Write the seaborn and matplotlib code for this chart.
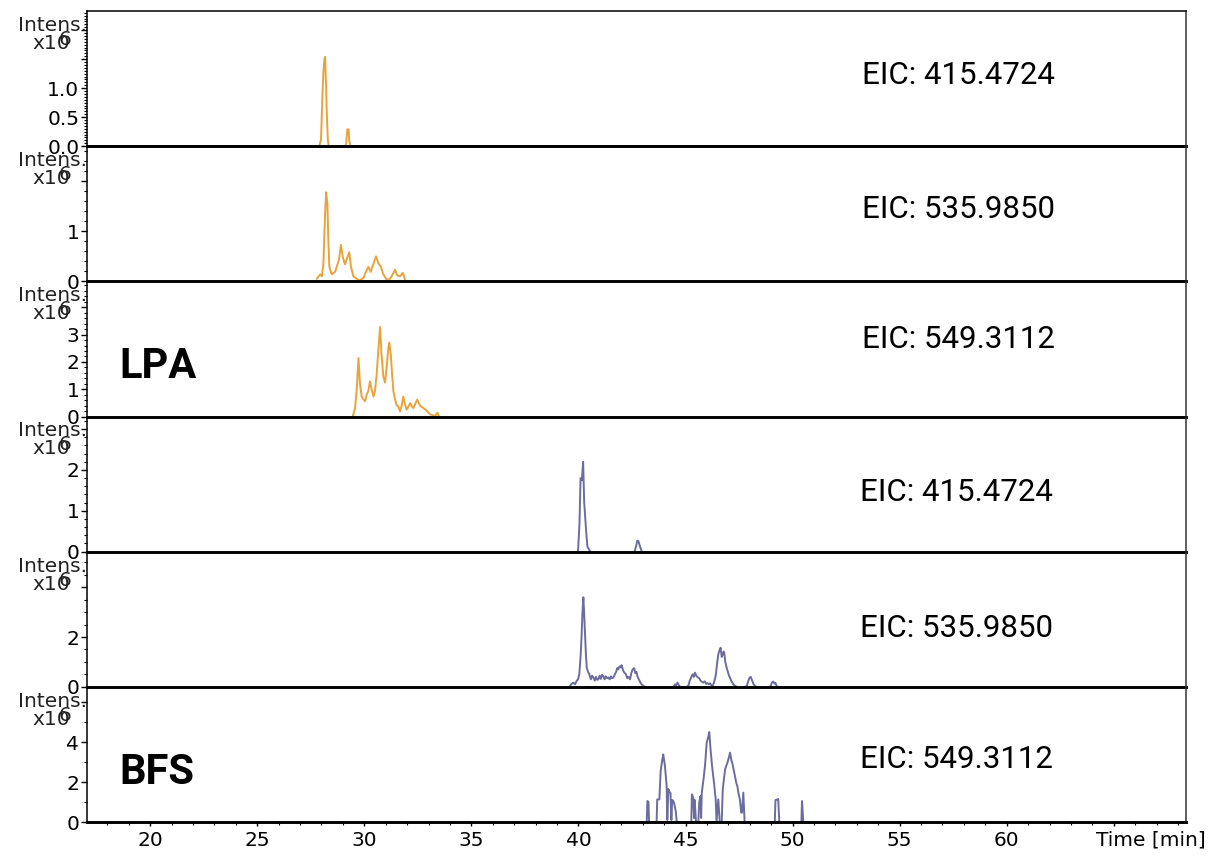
import numpy as np
import pandas as pd
import matplotlib
matplotlib.use("Agg")
import matplotlib.pyplot as plt
import seaborn as sns
from matplotlib.ticker import MultipleLocator, FuncFormatter

sns.set_theme(style="white")
plt.rcParams["font.family"] = ["DejaVu Sans"]

N = np.nan
ORANGE = "#E9A33B"
PURPLE = "#6C6C9E"

# ---------------- data (time in min, intensity in units of the panel) -------------
lpa_415_t = [27.9, 27.98, 28.05, 28.09, 28.14, 28.17, 28.2, 28.22, 28.25, 28.3, 28.34, N,
             29.12, 29.16, 29.21, 29.27, 29.3, 29.36]
lpa_415_i = [0, 0.11, 0.9, 1.26, 1.5, 1.54, 1.2, 1.03, 0.57, 0.11, 0, N,
             0, 0.05, 0.29, 0.29, 0.09, 0]

lpa_535_t = [27.78, 27.94, 28.02, 28.09, 28.17, 28.22, 28.28, 28.32, 28.37, 28.48, 28.64, 28.75,
             28.82, 28.91, 29.0, 29.1, 29.21, 29.3, 29.38, 29.49, 29.65, 29.8, 29.96, 30.08,
             30.19, 30.3, 30.42, 30.55, 30.66, 30.77, 30.89, 31.05, 31.2, 31.33, 31.44, 31.54,
             31.67, 31.8, 31.86, 31.92]
lpa_535_i = [0.05, 0.14, 0.1, 0.34, 1.34, 1.78, 1.54, 0.86, 0.29, 0.14, 0.19, 0.34,
             0.43, 0.73, 0.48, 0.34, 0.48, 0.58, 0.29, 0.1, 0.05, 0.02, 0.07, 0.19,
             0.29, 0.19, 0.34, 0.5, 0.36, 0.29, 0.14, 0.03, 0.05, 0.14, 0.23, 0.12,
             0.1, 0.17, 0.1, 0.0]

lpa_549_t = [29.46, 29.57, 29.65, 29.73, 29.8, 29.88, 29.96, 30.04, 30.12, 30.19, 30.27, 30.35,
             30.43, 30.5, 30.58, 30.66, 30.74, 30.8, 30.89, 30.97, 31.05, 31.13, 31.17, 31.24,
             31.3, 31.36, 31.44, 31.52, 31.59, 31.67, 31.75, 31.82, 31.9, 31.98, 32.06, 32.14,
             32.22, 32.29, 32.38, 32.47, 32.56, 32.64, 32.76, 32.92, 33.07, 33.31, 33.41, 33.5]
lpa_549_i = [0, 0.3, 1.0, 2.14, 1.2, 0.73, 0.62, 0.56, 0.82, 0.93, 1.29, 0.98,
             0.73, 0.93, 1.55, 2.45, 3.28, 2.35, 1.47, 1.24, 1.84, 2.55, 2.7, 2.25,
             1.55, 0.93, 0.62, 0.41, 0.37, 0.19, 0.41, 0.73, 0.46, 0.25, 0.36, 0.49,
             0.37, 0.31, 0.46, 0.62, 0.46, 0.37, 0.31, 0.21, 0.08, 0.02, 0.14, 0.0]

bfs_415_t = [39.98, 40.05, 40.1, 40.16, 40.22, 40.27, 40.31, 40.36, 40.42, 40.5, 40.56, N,
             42.62, 42.7, 42.75, 42.8, 42.88, 42.96]
bfs_415_i = [0, 0.7, 1.8, 1.75, 2.2, 1.2, 0.9, 0.5, 0.12, 0.05, 0, N,
             0, 0.15, 0.27, 0.26, 0.12, 0]

bfs_535_t = [39.61, 39.68, 39.76, 39.84, 39.92, 39.98, 40.04, 40.1, 40.15, 40.19, 40.23, 40.27,
             40.31, 40.35, 40.39, 40.45, 40.51, 40.58, 40.64, 40.7, 40.76, 40.82, 40.88, 40.93,
             40.99, 41.05, 41.1, 41.16, 41.22, 41.28, 41.34, 41.4, 41.46, 41.52, 41.57, 41.63,
             41.7, 41.76, 41.81, 41.86, 41.92, 41.97, 42.02, 42.07, 42.12, 42.17, 42.22, 42.28,
             42.34, 42.41, 42.47, 42.53, 42.6, 42.66, 42.71, 42.75, 42.82, 42.88, 42.95, 43.02,
             43.11, N,
             44.44, 44.51, 44.56, 44.62, 44.68, 44.74, N,
             45.06, 45.13, 45.2, 45.25, 45.29, 45.34, 45.39, 45.44, 45.5, 45.57, 45.64, 45.7,
             45.77, 45.83, 45.9, 45.97, 46.03, 46.09, 46.15, 46.21, 46.27, 46.32, 46.37, 46.42,
             46.47, 46.53, 46.58, 46.64, 46.69, 46.74, 46.78, 46.81, 46.86, 46.92, 46.98, 47.03,
             47.08, 47.13, 47.18, 47.23, 47.3, 47.39, N,
             47.8, 47.86, 47.92, 47.98, 48.04, 48.1, 48.17, 48.24, 48.3, N,
             48.93, 48.98, 49.04, 49.1, 49.16, 49.2, 49.25, 49.28]
bfs_535_i = [0.04, 0.12, 0.17, 0.1, 0.24, 0.3, 0.5, 1.2, 2.1, 3.0, 3.6, 2.9,
             2.1, 1.3, 0.77, 0.6, 0.5, 0.3, 0.45, 0.37, 0.25, 0.4, 0.28, 0.3,
             0.45, 0.32, 0.48, 0.44, 0.3, 0.42, 0.35, 0.38, 0.3, 0.42, 0.35, 0.37,
             0.5, 0.6, 0.75, 0.7, 0.82, 0.78, 0.87, 0.7, 0.6, 0.55, 0.5, 0.35,
             0.4, 0.3, 0.55, 0.7, 0.75, 0.55, 0.6, 0.44, 0.3, 0.2, 0.1, 0.05,
             0, N,
             0, 0.1, 0.05, 0.17, 0.08, 0.01, N,
             0, 0.04, 0.25, 0.35, 0.44, 0.5, 0.4, 0.57, 0.45, 0.38, 0.35, 0.25,
             0.2, 0.17, 0.22, 0.12, 0.15, 0.1, 0.14, 0.06, 0.04, 0.15, 0.3, 0.5,
             0.9, 1.3, 1.45, 1.57, 1.2, 1.3, 1.42, 1.37, 1.0, 0.77, 0.6, 0.45,
             0.37, 0.25, 0.18, 0.1, 0.05, 0, N,
             0, 0.04, 0.2, 0.35, 0.4, 0.28, 0.12, 0.04, 0, N,
             0, 0.04, 0.18, 0.21, 0.13, 0.16, 0.05, 0]

bfs_549_t = [43.19, 43.22, 43.27, 43.3, N,
             43.65, 43.68, 43.78, 43.84, 43.9, 43.96, 44.0, 44.04, 44.12, 44.15, 44.2, 44.25,
             44.3, 44.34, 44.38, 44.43, 44.48, 44.55, 44.59, N,
             45.27, 45.3, 45.36, 45.4, 45.43, 45.49, N,
             45.6, 45.64, 45.7, 45.73, 45.76, 45.84, 45.91, 45.99, 46.05, 46.11, 46.17, 46.24,
             46.33, 46.41, 46.45, 46.53, 46.6, N,
             46.69, 46.74, 46.8, 46.85, 46.9, 46.96, 47.02, 47.08, 47.14, 47.2, 47.25, 47.31,
             47.36, 47.42, 47.48, 47.54, 47.6, 47.64, 47.7, 47.76, N,
             49.17, 49.2, 49.27, 49.33, 49.38, N,
             50.41, 50.44, 50.5]
bfs_549_i = [0, 1.05, 1.0, 0, N,
             0, 1.13, 1.13, 2.55, 3.0, 3.38, 3.1, 2.8, 1.8, 0.1, 1.65, 1.5,
             1.45, 0.1, 1.1, 1.05, 0.9, 0.5, 0, N,
             0, 1.38, 1.2, 0.2, 1.1, 0, N,
             0, 0.97, 1.3, 0.2, 1.47, 2.13, 2.8, 3.97, 4.2, 4.5, 3.63, 2.8,
             1.97, 1.13, 0, 1.13, 0, N,
             0, 1.63, 2.2, 2.63, 2.8, 2.97, 3.2, 3.47, 3.1, 2.88, 2.6, 2.3,
             2.0, 1.8, 1.4, 1.13, 0.47, 0.47, 1.47, 0, N,
             0, 1.1, 1.12, 1.15, 0, N,
             0, 1.05, 0]

eic_labels = ["EIC: 415.4724", "EIC: 535.9850", "EIC: 549.3112",
              "EIC: 415.4724", "EIC: 535.9850", "EIC: 549.3112"]
group_labels = {2: "LPA", 5: "BFS"}

series_t = [lpa_415_t, lpa_535_t, lpa_549_t, bfs_415_t, bfs_535_t, bfs_549_t]
series_i = [lpa_415_i, lpa_535_i, lpa_549_i, bfs_415_i, bfs_535_i, bfs_549_i]
colors = [ORANGE, ORANGE, ORANGE, PURPLE, PURPLE, PURPLE]
y_top = [2.33, 2.7, 4.95, 3.31, 5.43, 6.76]
y_major = [0.5, 1, 1, 1, 2, 2]
y_minor = [0.05, 0.2, 0.2, 0.2, 0.5, 1]
y_labeled = [[0.0, 0.5, 1.0], [0, 1], [0, 1, 2, 3], [0, 1, 2], [0, 2], [0, 2, 4]]
y_fmt = ["{:.1f}", "{:d}", "{:d}", "{:d}", "{:d}", "{:d}"]
eic_pos = [(0.705, 0.526), (0.705, 0.528), (0.705, 0.567),
           (0.703, 0.435), (0.703, 0.428), (0.703, 0.459)]
group_pos = {2: (0.030, 0.367), 5: (0.030, 0.363)}

x_lim = (17.04, 68.37)
x_labeled = [20, 25, 30, 35, 40, 45, 50, 55, 60]


def to_df(t, i):
    t = np.asarray(t, float)
    i = np.asarray(i, float)
    seg = np.cumsum(np.isnan(t))
    df = pd.DataFrame({"t": t, "i": i, "seg": seg}).dropna()
    return df


fig, axes = plt.subplots(6, 1, figsize=(12.12, 8.58), dpi=100, sharex=True)
fig.subplots_adjust(left=86.7 / 1212, right=1186 / 1212,
                    top=1 - 11 / 858, bottom=1 - 822 / 858, hspace=0)

TICK_FS = 14.5

for k, ax in enumerate(axes):
    ax.patch.set_visible(False)
    df = to_df(series_t[k], series_i[k])
    sns.lineplot(data=df, x="t", y="i", units="seg", estimator=None, sort=False,
                 color=colors[k], lw=1.4, ax=ax, legend=False)
    ax.set_xlim(*x_lim)
    ax.set_ylim(0, y_top[k])
    ax.set_xlabel("")
    ax.set_ylabel("")

    # spines
    for s in ["left", "right", "top", "bottom"]:
        ax.spines[s].set_color("black")
    ax.spines["left"].set_linewidth(1.1)
    ax.spines["right"].set_linewidth(1.1)
    ax.spines["right"].set_color("#333333")
    ax.spines["bottom"].set_linewidth(2.1)
    ax.spines["top"].set_linewidth(1.1)
    ax.spines["top"].set_visible(k == 0)

    # y ticks
    labeled = y_labeled[k]
    fmt = y_fmt[k]

    def make_fmt(labeled, fmt):
        def f(v, p):
            for L in labeled:
                if abs(v - L) < 1e-6:
                    return fmt.format(L) if "d" not in fmt else fmt.format(int(round(L)))
            return ""
        return f

    ax.yaxis.set_major_locator(MultipleLocator(y_major[k]))
    ax.yaxis.set_minor_locator(MultipleLocator(y_minor[k]))
    ax.yaxis.set_major_formatter(FuncFormatter(make_fmt(labeled, fmt)))
    ax.tick_params(axis="y", which="major", left=True, direction="out", length=4.3,
                   width=1, pad=1.0, labelsize=TICK_FS, colors="black")
    ax.tick_params(axis="y", which="minor", left=True, direction="out", length=2.2,
                   width=0.8, colors="black")

    # Intens. label with overlapping exponent, as in the reference
    ax.annotate("Intens.", xy=(0, 1), xycoords="axes fraction", xytext=(0, -5),
                textcoords="offset pixels", ha="right", va="top", fontsize=TICK_FS,
                color="#222222")
    ax.annotate("x10", xy=(0, 1), xycoords="axes fraction", xytext=(-17, -23),
                textcoords="offset pixels", ha="right", va="top", fontsize=TICK_FS,
                color="#222222")
    ax.annotate("6", xy=(0, 1), xycoords="axes fraction", xytext=(-15, -19),
                textcoords="offset pixels", ha="right", va="top", fontsize=TICK_FS,
                color="#222222")

    # EIC label
    ax.text(eic_pos[k][0], eic_pos[k][1], eic_labels[k], transform=ax.transAxes,
            ha="left", va="center", fontsize=22.5, family="Roboto", color="black")
    if k in group_labels:
        gx, gy = group_pos[k]
        ax.text(gx, gy, group_labels[k], transform=ax.transAxes, ha="left", va="center",
                fontsize=30, family="Roboto", fontweight="bold", color="black")

    if k < 5:
        ax.tick_params(axis="x", which="both", bottom=False, labelbottom=False)

# bottom x axis
axb = axes[-1]
axb.xaxis.set_major_locator(MultipleLocator(5))
axb.xaxis.set_minor_locator(MultipleLocator(1))
axb.xaxis.set_major_formatter(FuncFormatter(
    lambda v, p: f"{int(round(v))}" if int(round(v)) in x_labeled else ""))
axb.tick_params(axis="x", which="major", bottom=True, direction="out", length=3,
                width=1, pad=3.5, labelsize=TICK_FS, colors="black")
axb.tick_params(axis="x", which="minor", bottom=True, direction="out", length=2.2,
                width=0.8, colors="black")
axb.annotate("Time [min]", xy=(66.73, 0), xycoords=("data", "axes fraction"),
             xytext=(0, -9), textcoords="offset pixels", ha="center", va="top",
             fontsize=TICK_FS, color="black", annotation_clip=False)

fig.savefig("out.png", dpi=100)
